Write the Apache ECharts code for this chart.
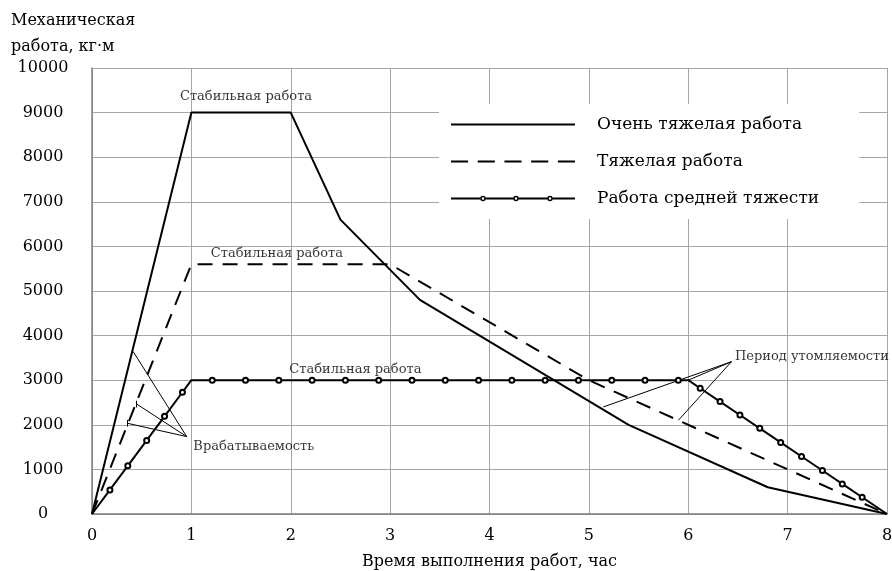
<!DOCTYPE html>
<html>
<head>
<meta charset="utf-8">
<script src="https://cdn.jsdelivr.net/npm/echarts@6/dist/echarts.min.js"></script>
<style>
html,body{margin:0;padding:0;background:#fff;}
#chart{width:892px;height:571px;}
</style>
</head>
<body>
<div id="chart"></div>
<script>
// ---- data ----
const seriesNames = ['Очень тяжелая работа', 'Тяжелая работа', 'Работа средней тяжести'];

const heavyX = [0, 1, 2, 2.5, 3.3, 5.4, 6.8, 8];
const heavyY = [0, 9000, 9000, 6600, 4800, 2000, 600, 0];

const hardX = [0, 1, 3, 5, 8];
const hardY = [0, 5600, 5600, 3000, 0];

const mediumX = [0, 1, 6, 8];
const mediumY = [0, 3000, 3000, 0];

const mediumMarkX = [0.18, 0.36, 0.55, 0.73, 0.91,
  1.21, 1.545, 1.88, 2.215, 2.55, 2.885, 3.22, 3.555, 3.89, 4.225, 4.56, 4.895, 5.23, 5.565, 5.9,
  6.12, 6.32, 6.52, 6.72, 6.93, 7.14, 7.35, 7.55, 7.75];
const mediumMarkY = [540, 1080, 1650, 2190, 2730,
  3000, 3000, 3000, 3000, 3000, 3000, 3000, 3000, 3000, 3000, 3000, 3000, 3000, 3000, 3000,
  2820, 2520, 2220, 1920, 1605, 1290, 975, 675, 375];

const xTicks = [0, 1, 2, 3, 4, 5, 6, 7, 8];
const yTicks = [0, 1000, 2000, 3000, 4000, 5000, 6000, 7000, 8000, 9000, 10000];

const noteTexts = ['Стабильная работа', 'Стабильная работа', 'Стабильная работа', 'Врабатываемость', 'Период утомляемости'];
const noteX = [1.55, 1.86, 2.65, 1.02, 6.47];
const noteY = [9350, 5830, 3230, 1510, 3520];
const noteAlign = ['center', 'center', 'center', 'left', 'left'];

// leader lines [x1, y1, x2, y2]
const leaderLines = [
  [0.953, 1735, 0.415, 3640],
  [0.953, 1735, 0.45, 2465],
  [0.953, 1735, 0.355, 2035],
  [0.45, 2390, 0.45, 2540],
  [0.355, 1960, 0.355, 2110],
  [6.435, 3415, 6.0, 3000],
  [6.435, 3415, 5.145, 2400],
  [6.435, 3415, 5.9, 2100]
];

const xAxisTitle = 'Время выполнения работ, час';
const yAxisTitle = 'Механическая\nработа, кг·м';

// ---- build ----
const FONT = 'DejaVu Serif';
function pairs(xs, ys) { return xs.map((x, i) => [x, ys[i]]); }

const mediumData = mediumX.map((x, i) => ({ value: [x, mediumY[i]], symbol: 'none' }))
  .concat(mediumMarkX.map((x, i) => ({ value: [x, mediumMarkY[i]] })))
  .sort((a, b) => a.value[0] - b.value[0]);

// legend icon shapes
function rect(x0, x1) { return 'M' + x0 + ',-1H' + x1 + 'V1H' + x0 + 'Z'; }
function ring(cx, R, r) {
  return 'M' + (cx + R) + ',0A' + R + ',' + R + ' 0 1 1 ' + (cx - R) + ',0A' + R + ',' + R + ' 0 1 1 ' + (cx + R) + ',0Z' +
         'M' + (cx + r) + ',0A' + r + ',' + r + ' 0 1 0 ' + (cx - r) + ',0A' + r + ',' + r + ' 0 1 0 ' + (cx + r) + ',0Z';
}
const iconSolid = 'path://' + rect(0, 124);
const iconDash = 'path://' + rect(0, 16) + rect(25, 41) + rect(50, 66) + rect(75, 91) + rect(100, 116);
const R = 2.8, r = 1.3, cs = [32, 65, 99];
const iconMarked = 'path://' + rect(0, cs[0] - R) + rect(cs[0] + R, cs[1] - R) + rect(cs[1] + R, cs[2] - R) + rect(cs[2] + R, 124) +
  ring(cs[0], R, r) + ring(cs[1], R, r) + ring(cs[2], R, r);
const legendIcons = [iconSolid, iconDash, iconMarked];

const chart = echarts.init(document.getElementById('chart'), null, { renderer: 'canvas' });

const option = {
  animation: false,
  backgroundColor: '#fff',
  title: {
    text: yAxisTitle,
    left: 11, top: 8, padding: 0,
    textStyle: { fontFamily: FONT, fontSize: 16, fontWeight: 'normal', color: '#000', lineHeight: 26 }
  },
  grid: { left: 92, right: 5, top: 68, bottom: 57, containLabel: false, outerBoundsMode: 'none' },
  legend: {
    orient: 'vertical',
    left: 439, top: 104,
    padding: [12, 40, 12, 12],
    backgroundColor: '#fff',
    itemWidth: 124, itemHeight: 12, itemGap: 20,
    symbolKeepAspect: true,
    textStyle: { fontFamily: FONT, fontSize: 17, color: '#000', padding: [0, 0, 0, 17] },
    data: seriesNames.map((n, i) => ({
      name: n, icon: legendIcons[i],
      itemStyle: { color: '#000', borderWidth: 0, opacity: 1 }
    }))
  },
  xAxis: {
    type: 'value', min: xTicks[0], max: xTicks[xTicks.length - 1], interval: 1,
    name: xAxisTitle, nameLocation: 'middle', nameGap: 40,
    nameTextStyle: { fontFamily: FONT, fontSize: 16, color: '#000' },
    axisLine: { show: true, lineStyle: { color: '#7f7f7f', width: 1.5 } },
    axisTick: { show: false },
    axisLabel: { fontFamily: FONT, fontSize: 16, color: '#000', margin: 14, formatter: v => String(v) },
    splitLine: { show: true, lineStyle: { color: '#a6a6a6', width: 1 } }
  },
  yAxis: {
    type: 'value', min: yTicks[0], max: yTicks[yTicks.length - 1], interval: 1000,
    axisLine: { show: true, lineStyle: { color: '#7f7f7f', width: 1.5 } },
    axisTick: { show: false },
    axisLabel: { fontFamily: FONT, fontSize: 16, color: '#000', margin: 49, align: 'center', formatter: v => String(v) },
    splitLine: { show: true, lineStyle: { color: '#a6a6a6', width: 1 } }
  },
  series: [
    {
      name: seriesNames[0], type: 'line', data: pairs(heavyX, heavyY),
      symbol: 'none', lineStyle: { color: '#000', width: 2 }, itemStyle: { color: '#000' }, z: 5
    },
    {
      name: seriesNames[1], type: 'line', data: pairs(hardX, hardY),
      symbol: 'none', lineStyle: { color: '#000', width: 2, type: [15, 10] }, itemStyle: { color: '#000' }, z: 5
    },
    {
      name: seriesNames[2], type: 'line', data: mediumData,
      symbol: 'emptyCircle', symbolSize: 5, showAllSymbol: true,
      lineStyle: { color: '#000', width: 2, type: 'solid' },
      itemStyle: { color: '#000', borderColor: '#000', borderWidth: 1.5 }, z: 6
    },
    {
      name: 'notes', type: 'scatter', symbolSize: 0, silent: true, z: 7,
      data: noteTexts.map((t, i) => ({
        value: [noteX[i], noteY[i]], name: t,
        label: { align: noteAlign[i] }
      })),
      label: {
        show: true, position: 'inside', formatter: p => p.name,
        fontFamily: FONT, fontSize: 13, color: '#000', verticalAlign: 'middle'
      },
      markLine: {
        silent: true, symbol: ['none', 'none'], animation: false,
        label: { show: false },
        lineStyle: { color: '#000', width: 1, type: 'solid' },
        data: leaderLines.map(l => [{ coord: [l[0], l[1]] }, { coord: [l[2], l[3]] }])
      }
    }
  ]
};
chart.setOption(option);
</script>
</body>
</html>
